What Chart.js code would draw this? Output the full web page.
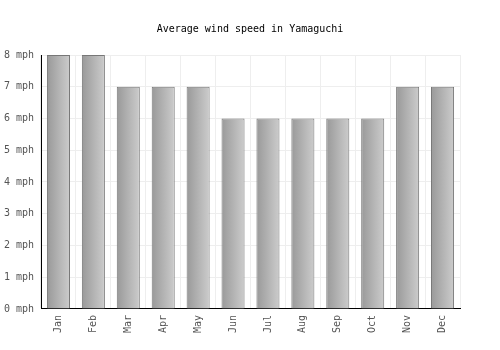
<!DOCTYPE html>
<html>
<head>
<meta charset="utf-8">
<script src="https://cdn.jsdelivr.net/npm/chart.js@4"></script>
<style>
  html, body { margin: 0; padding: 0; background: #fff; }
  #wrap { width: 500px; height: 350px; }
</style>
</head>
<body>
<div id="wrap"><canvas id="chart"></canvas></div>
<script>
// Data
const months = ['Jan', 'Feb', 'Mar', 'Apr', 'May', 'Jun', 'Jul', 'Aug', 'Sep', 'Oct', 'Nov', 'Dec'];
const windSpeed = [8, 8, 7, 7, 7, 6, 6, 6, 6, 6, 7, 7];
const yTicks = [0, 1, 2, 3, 4, 5, 6, 7, 8];

const BAR_PCT = 0.66;

// horizontal gradient per bar, dark on the left
function barGradient(context) {
    const chart = context.chart;
    const area = chart.chartArea;
    if (!area) return '#aaa';
    const xScale = chart.scales.x;
    const cx = xScale.getPixelForValue(context.dataIndex);
    const catWidth = (area.right - area.left) / months.length;
    const half = catWidth * BAR_PCT / 2;
    const g = chart.ctx.createLinearGradient(cx - half, 0, cx + half, 0);
    g.addColorStop(0, '#999999');
    g.addColorStop(1, '#cccccc');
    return g;
}

document.addEventListener('DOMContentLoaded', function() {
    Chart.defaults.font.family = '"DejaVu Sans Mono", monospace';
    Chart.defaults.font.size = 10;
    Chart.defaults.color = '#555';

    new Chart(document.getElementById('chart'), {
        type: 'bar',
        data: {
            labels: months,
            datasets: [{
                label: 'Wind speed',
                data: windSpeed,
                backgroundColor: barGradient,
                borderColor: '#777777',
                borderWidth: 1,
                categoryPercentage: 1,
                barPercentage: BAR_PCT
            }]
        },
        options: {
            responsive: true,
            maintainAspectRatio: false,
            animation: false,
            layout: {
                padding: { left: 0, right: 0, top: 0, bottom: 11 }
            },
            plugins: {
                legend: { display: false },
                tooltip: { enabled: false },
                title: {
                    display: true,
                    text: 'Average wind speed in Yamaguchi',
                    color: '#000',
                    font: { size: 10, weight: 'normal' },
                    padding: { top: 23, bottom: 20 }
                }
            },
            scales: {
                x: {
                    grid: { color: '#eeeeee', drawTicks: false },
                    border: { color: '#000', width: 1 },
                    ticks: { maxRotation: 90, minRotation: 90, padding: 6, color: '#555' }
                },
                y: {
                    min: 0,
                    max: 8,
                    afterBuildTicks: function(axis) {
                        axis.ticks = yTicks.map(v => ({ value: v }));
                    },
                    afterFit: function(axis) { axis.width = 41; },
                    grid: { color: '#eeeeee', drawTicks: false },
                    border: { color: '#000', width: 1 },
                    ticks: {
                        padding: 7,
                        color: '#555',
                        callback: v => v + ' mph'
                    }
                },
                // empty right-hand gutter so the title stays centred on the canvas
                gutter: {
                    position: 'right',
                    min: 0,
                    max: 8,
                    grid: { display: false },
                    border: { display: false },
                    ticks: { display: false },
                    afterFit: function(axis) { axis.width = 40; }
                }
            }
        }
    });
});
</script>
</body>
</html>
